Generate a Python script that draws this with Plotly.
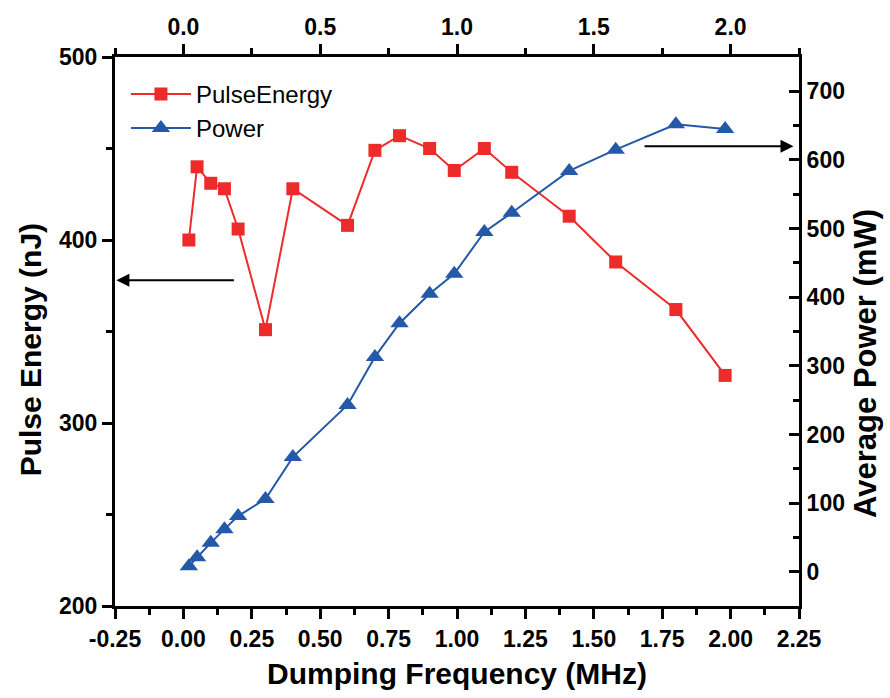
import plotly.graph_objects as go

# Dumping frequency (MHz) for each measurement
freq = [0.02, 0.05, 0.10, 0.15, 0.20, 0.30, 0.40, 0.60, 0.70, 0.79,
        0.90, 0.99, 1.10, 1.20, 1.41, 1.58, 1.80, 1.98]
# Pulse energy (nJ)
pulse_energy = [400, 440, 431, 428, 406, 351, 428, 408, 449, 457,
                450, 438, 450, 437, 413, 388, 362, 326]
# Average output power (mW)
avg_power = [8, 21, 42, 62, 81, 106, 167, 243, 313, 362,
             405, 434, 495, 523, 584, 615, 652, 645]

# Tick positions and labels
bottom_ticks = [-0.25, 0.0, 0.25, 0.5, 0.75, 1.0, 1.25, 1.5, 1.75, 2.0, 2.25]
bottom_labels = ["-0.25", "0.00", "0.25", "0.50", "0.75", "1.00",
                 "1.25", "1.50", "1.75", "2.00", "2.25"]
top_ticks = [0.0, 0.5, 1.0, 1.5, 2.0]
top_labels = ["0.0", "0.5", "1.0", "1.5", "2.0"]

RED = "#EE2B2B"
BLUE = "#2458A8"
FONT = "Liberation Sans, Arial, sans-serif"

fig = go.Figure()

fig.add_trace(go.Scatter(
    x=freq, y=pulse_energy, name="PulseEnergy", mode="lines+markers",
    line=dict(color=RED, width=2),
    marker=dict(symbol="square", size=13, color=RED),
    xaxis="x", yaxis="y",
))
fig.add_trace(go.Scatter(
    x=freq, y=avg_power, name="Power", mode="lines+markers",
    line=dict(color=BLUE, width=2),
    marker=dict(symbol="triangle-up", size=16, color=BLUE),
    xaxis="x2", yaxis="y2",
))

axis_common = dict(
    showline=True, linecolor="black", linewidth=3,
    tickcolor="black", tickwidth=3, ticklen=10,
    showgrid=False, zeroline=False,
    tickfont=dict(family=FONT, size=23, color="black", weight="bold"),
)
title_font = dict(family=FONT, size=30, color="black", weight="bold")
minor_out = dict(ticklen=6, tickwidth=3, tickcolor="black", ticks="outside")

fig.update_layout(
    width=890, height=698,
    margin=dict(l=115, r=91, t=57, b=92),
    paper_bgcolor="white", plot_bgcolor="white",
    showlegend=True,
    legend=dict(
        x=0.016, y=0.973, xanchor="left", yanchor="top",
        font=dict(family=FONT, size=24, color="black"),
        bgcolor="rgba(0,0,0,0)", tracegroupgap=0, itemwidth=60,
    ),
    xaxis=dict(
        **axis_common,
        range=[-0.25, 2.25], tickmode="array",
        tickvals=bottom_ticks, ticktext=bottom_labels,
        ticks="outside",
        minor=dict(dtick=0.125, tick0=0, **minor_out),
        title=dict(text="Dumping Frequency (MHz)", standoff=13, font=title_font),
    ),
    xaxis2=dict(
        **axis_common,
        overlaying="x", side="top",
        range=[-0.25, 2.25], tickmode="array",
        tickvals=top_ticks, ticktext=top_labels,
        ticks="outside",
        minor=dict(dtick=0.25, tick0=0, **minor_out),
    ),
    yaxis=dict(
        **axis_common,
        range=[200, 500], dtick=100, ticks="outside",
        minor=dict(dtick=50, **minor_out),
    ),
    yaxis2=dict(
        **axis_common,
        overlaying="y", side="right",
        range=[-50, 750], dtick=100, ticks="inside",
        minor=dict(dtick=50, ticklen=6, tickwidth=3, tickcolor="black", ticks="inside"),
    ),
)

# Vertical axis titles
fig.add_annotation(
    text="Pulse Energy (nJ)", textangle=-90, showarrow=False,
    xref="paper", yref="paper", x=-0.124, y=0.466,
    xanchor="center", yanchor="middle", font=title_font,
)
fig.add_annotation(
    text="Average Power (mW)", textangle=-90, showarrow=False,
    xref="paper", yref="paper", x=1.098, y=0.441,
    xanchor="center", yanchor="middle", font=dict(title_font, size=31),
)

# Arrows pointing each curve to its axis
fig.add_annotation(
    x=-0.245, y=378, ax=0.19, ay=378,
    xref="x", yref="y", axref="x", ayref="y",
    showarrow=True, arrowhead=2, arrowsize=1.3, arrowwidth=2, arrowcolor="black", text="",
)
fig.add_annotation(
    x=2.23, y=620, ax=1.68, ay=620,
    xref="x2", yref="y2", axref="x2", ayref="y2",
    showarrow=True, arrowhead=2, arrowsize=1.3, arrowwidth=2, arrowcolor="black", text="",
)

fig.write_html("out.html")
